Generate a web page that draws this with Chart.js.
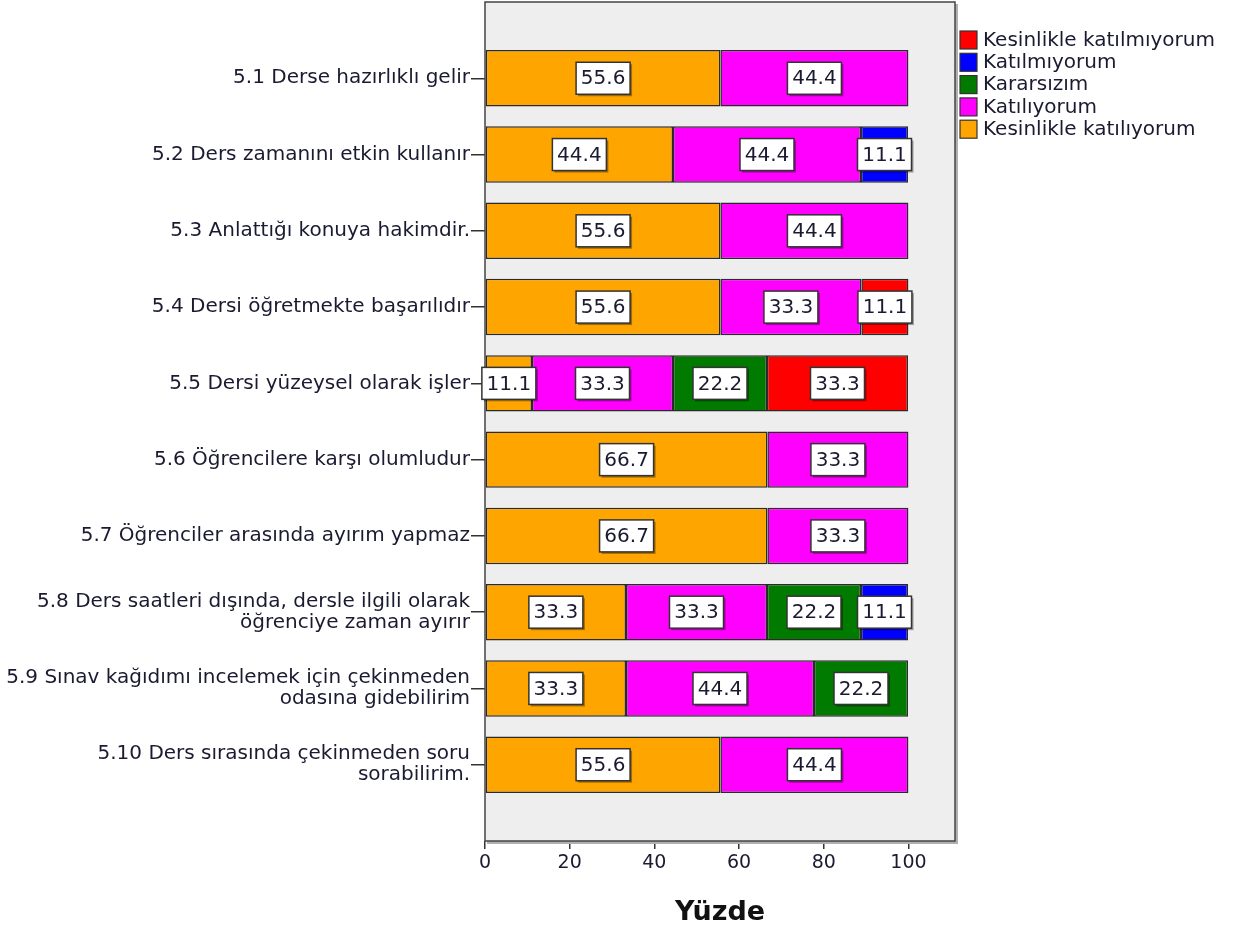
<!DOCTYPE html>
<html>
<head>
<meta charset="utf-8">
<script src="https://cdn.jsdelivr.net/npm/chart.js@4"></script>
<style>
  html, body { margin: 0; padding: 0; background: #ffffff; }
  #wrap { position: relative; width: 1235px; height: 933px; }
</style>
</head>
<body>
<div id="wrap"><canvas id="c"></canvas></div>
<script>
const categories = [
  "5.1 Derse hazırlıklı gelir",
  "5.2 Ders zamanını etkin kullanır",
  "5.3 Anlattığı konuya hakimdir.",
  "5.4 Dersi öğretmekte başarılıdır",
  "5.5 Dersi yüzeysel olarak işler",
  "5.6 Öğrencilere karşı olumludur",
  "5.7 Öğrenciler arasında ayırım yapmaz",
  ["5.8 Ders saatleri dışında, dersle ilgili olarak", "öğrenciye zaman ayırır"],
  ["5.9 Sınav kağıdımı incelemek için çekinmeden", "odasına gidebilirim"],
  ["5.10 Ders sırasında çekinmeden soru", "sorabilirim."]
];
const seriesNames = ["Kesinlikle katılıyorum", "Katılıyorum", "Kararsızım", "Katılmıyorum", "Kesinlikle katılmıyorum"];
const kesinlikleKatiliyorum = [55.6, 44.4, 55.6, 55.6, 11.1, 66.7, 66.7, 33.3, 33.3, 55.6];
const katiliyorum           = [44.4, 44.4, 44.4, 33.3, 33.3, 33.3, 33.3, 33.3, 44.4, 44.4];
const kararsizim            = [0, 0, 0, 0, 22.2, 0, 0, 22.2, 22.2, 0];
const katilmiyorum          = [0, 11.1, 0, 0, 0, 0, 0, 11.1, 0, 0];
const kesinlikleKatilmiyorum= [0, 0, 0, 11.1, 33.3, 0, 0, 0, 0, 0];
const xTicks = [0, 20, 40, 60, 80, 100];
const xTitle = "Yüzde";

const seriesValues = [kesinlikleKatiliyorum, katiliyorum, kararsizim, katilmiyorum, kesinlikleKatilmiyorum];
const seriesColors = ["#ffa500", "#ff00ff", "#007b00", "#0000ff", "#ff0000"];

const labels = [""].concat(categories, [""]);
const datasets = seriesValues.map((vals, i) => ({
  label: seriesNames[i],
  data: [null].concat(vals.map(v => v === 0 ? null : v), [null]),
  backgroundColor: seriesColors[i],
  borderColor: "#2a2a2a",
  borderWidth: 1.5,
  borderSkipped: false,
  barPercentage: 0.74,
  categoryPercentage: 1.0
}));

const TEXT = "#1a1a30";
const FONT = "'DejaVu Sans', sans-serif";

const framePlugin = {
  id: "frame",
  beforeDatasetsDraw(chart) {
    const a = chart.chartArea, c = chart.ctx;
    c.save();
    c.fillStyle = "#eeeeee";
    c.fillRect(a.left, a.top, a.right - a.left, a.bottom - a.top);
    c.strokeStyle = "#b0b0b0";
    c.lineWidth = 3;
    c.beginPath();
    c.moveTo(a.right + 1.5, a.top + 2);
    c.lineTo(a.right + 1.5, a.bottom + 1.5);
    c.lineTo(a.left + 2, a.bottom + 1.5);
    c.stroke();
    c.strokeStyle = "#444";
    c.lineWidth = 1.5;
    c.strokeRect(a.left, a.top, a.right - a.left, a.bottom - a.top);
    c.restore();
  }
};

const valueLabelPlugin = {
  id: "valueLabels",
  afterDatasetsDraw(chart) {
    const c = chart.ctx;
    c.save();
    c.font = "20px " + FONT;
    c.textAlign = "center";
    c.textBaseline = "middle";
    chart.data.datasets.forEach((ds, di) => {
      const meta = chart.getDatasetMeta(di);
      meta.data.forEach((el, i) => {
        const v = ds.data[i];
        if (v === null || v === undefined) return;
        const cx = (el.x + el.base) / 2, cy = el.y;
        const w = 54, h = 32;
        c.fillStyle = "rgba(0,0,0,0.35)";
        c.fillRect(cx - w / 2 + 2, cy - h / 2 + 2, w, h);
        c.fillStyle = "#ffffff";
        c.fillRect(cx - w / 2, cy - h / 2, w, h);
        c.strokeStyle = "#333";
        c.lineWidth = 1.5;
        c.strokeRect(cx - w / 2, cy - h / 2, w, h);
        c.fillStyle = TEXT;
        c.fillText(v.toFixed(1), cx, cy + 1);
      });
    });
    c.restore();
  }
};

const legendPlugin = {
  id: "sideLegend",
  afterDraw(chart) {
    const c = chart.ctx;
    const a = chart.chartArea;
    c.save();
    c.font = "20px " + FONT;
    c.textBaseline = "middle";
    c.textAlign = "left";
    const order = chart.data.datasets.map((d, i) => i).reverse();
    order.forEach((di, k) => {
      const ds = chart.data.datasets[di];
      const x = a.right + 5, y = 31 + k * 22.3;
      c.fillStyle = ds.backgroundColor;
      c.fillRect(x, y, 17, 18);
      c.strokeStyle = "#333";
      c.lineWidth = 1.2;
      c.strokeRect(x, y, 17, 18);
      c.fillStyle = TEXT;
      c.fillText(ds.label, x + 23, y + 9.5);
    });
    c.restore();
  }
};

new Chart(document.getElementById("c"), {
  type: "bar",
  data: { labels, datasets },
  options: {
    indexAxis: "y",
    responsive: true,
    maintainAspectRatio: false,
    animation: false,
    layout: { padding: { top: 2, right: 280, left: 0, bottom: 0 } },
    plugins: { legend: { display: false }, tooltip: { enabled: false } },
    scales: {
      x: {
        stacked: true,
        min: 0,
        max: 111,
        afterFit(s) { s.height = 92; s.paddingLeft = 0; s.paddingRight = 0; },
        afterBuildTicks(s) { s.ticks = xTicks.map(v => ({ value: v })); },
        grid: { drawOnChartArea: false, drawTicks: true, tickLength: 8, color: "#333", lineWidth: 1.5 },
        border: { display: false },
        ticks: { padding: 3, color: TEXT, font: { family: FONT, size: 19 } },
        title: { display: true, text: xTitle, color: "#111", font: { family: FONT, size: 27, weight: "bold" }, padding: { top: 4, bottom: 4 } }
      },
      y: {
        stacked: true,
        offset: false,
        afterFit(s) { s.width = 485; s.paddingTop = 0; s.paddingBottom = 0; },
        grid: {
          offset: false,
          drawOnChartArea: false,
          drawTicks: true,
          tickLength: 14,
          lineWidth: 1.5,
          color: (ctx) => (ctx.index === 0 || ctx.index === labels.length - 1) ? "rgba(0,0,0,0)" : "#333"
        },
        border: { display: false },
        ticks: { autoSkip: false, padding: 1, color: TEXT, font: { family: FONT, size: 20, lineHeight: 1.05 } }
      }
    }
  },
  plugins: [framePlugin, valueLabelPlugin, legendPlugin]
});
</script>
</body>
</html>
